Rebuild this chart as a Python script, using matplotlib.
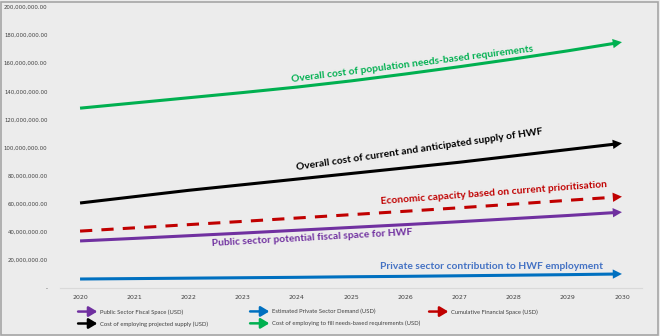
import matplotlib
matplotlib.use("Agg")
import matplotlib.pyplot as plt
from matplotlib.patches import FancyArrowPatch, Rectangle
from matplotlib.legend_handler import HandlerBase
from matplotlib.ticker import FuncFormatter

years = [2020, 2021, 2022, 2023, 2024, 2025, 2026, 2027, 2028, 2029, 2030]
public_fiscal = [33.5, 35.3, 37.2, 39.1, 41.1, 43.1, 45.1, 47.2, 49.4, 51.6, 54.0]
private_demand = [6.4, 6.7, 7.0, 7.3, 7.6, 8.0, 8.3, 8.7, 9.1, 9.5, 10.0]
cumulative_fin = [40.5, 42.8, 45.1, 47.4, 49.8, 52.2, 54.6, 57.1, 59.7, 62.4, 65.0]
cost_supply = [60.5, 65.0, 69.5, 73.5, 77.5, 81.5, 85.5, 89.5, 94.0, 98.5, 103.0]
cost_needs = [128.0, 131.7, 135.4, 139.1, 143.0, 147.4, 152.3, 157.5, 163.0, 168.8, 175.0]

series_labels = ["Public Sector Fiscal Space (USD)",
                 "Estimated Private Sector Demand (USD)",
                 "Cumulative Financial Space (USD)",
                 "Cost of employing projected supply (USD)",
                 "Cost of employing to fill needs-based requirements (USD)"]
annotations = ["Public sector potential fiscal space for HWF",
               "Private sector contribution to HWF employment",
               "Economic capacity based on current prioritisation",
               "Overall cost of current and anticipated supply of HWF",
               "Overall cost of population needs-based requirements"]

colors = ["#7030a0", "#0070c0", "#c00000", "#000000", "#00b050"]
text_colors = ["#7030a0", "#4472c4", "#c00000", "#000000", "#00b050"]
styles = ["-", "-", (0, (4, 3)), "-", "-"]
# annotation placement (x in years, y in millions, rotation deg)
ann_pos = [(2024.28, 35.4, 3.2), (2027.6, 15.6, 0), (2027.64, 67.6, 4.3),
           (2026.27, 98.2, 8.3), (2026.13, 159.4, 7.2)]

bg = "#ececec"
fig = plt.figure(figsize=(6.6, 3.36), dpi=100, facecolor=bg)
ax = fig.add_axes([60/660, 48/336, 582/660, 281/336], facecolor=bg)

data = [public_fiscal, private_demand, cumulative_fin, cost_supply, cost_needs]
S = 1e6
for vals, c, ls in zip(data, colors, styles):
    yv = [v * S for v in vals]
    ax.plot(years[:-1] + [years[-1] - 0.12], yv[:-1] + [yv[-1] - (yv[-1]-yv[-2])*0.12],
            color=c, lw=2.2, linestyle=ls, solid_capstyle="butt", dash_capstyle="butt")
    ax.annotate("", xy=(years[-1], yv[-1]), xytext=(years[-2], yv[-2]),
                arrowprops=dict(arrowstyle="-|>,head_length=0.55,head_width=0.28",
                                color=c, lw=0, shrinkA=0, shrinkB=0, mutation_scale=12))

for txt, tc, (xp, yp, rot) in zip(annotations, text_colors, ann_pos):
    ax.text(xp, yp * S, txt, color=tc, fontsize=7.4, fontweight="bold",
            family=["Lato", "DejaVu Sans"], rotation=rot, ha="center", va="center",
            rotation_mode="anchor")

ax.set_xlim(2020 - 0.37, 2030 + 0.37)
ax.set_ylim(0, 200e6)
ax.set_xticks(years)
ax.set_yticks([i * 20e6 for i in range(11)])
ax.yaxis.set_major_formatter(FuncFormatter(lambda v, p: "-" if v == 0 else f"{v:,.2f}"))
ax.tick_params(axis="x", length=0, labelsize=4.5, labelcolor="#404040", pad=5)
ax.tick_params(axis="y", length=0, labelsize=3.9, labelcolor="#404040", pad=9)
for s in ["top", "right", "left"]:
    ax.spines[s].set_visible(False)
ax.spines["bottom"].set_color("#d9d9d9")
ax.spines["bottom"].set_linewidth(0.8)


class ArrowHandler(HandlerBase):
    def __init__(self, color):
        super().__init__()
        self.color = color

    def create_artists(self, legend, orig_handle, xdescent, ydescent, width, height, fontsize, trans):
        y = height / 2 - ydescent
        a = FancyArrowPatch((-xdescent, y), (-xdescent + width, y),
                            arrowstyle="-|>,head_length=0.5,head_width=0.3",
                            mutation_scale=10, color=self.color, lw=1.8,
                            shrinkA=0, shrinkB=0, transform=trans)
        return [a]


handles = [Rectangle((0, 0), 1, 1) for _ in series_labels]
hmap = {h: ArrowHandler(c) for h, c in zip(handles, colors)}
columns = [([0, 3], 74), ([1, 4], 246), ([2], 425)]
for idx, xstart in columns:
    leg = fig.legend([handles[i] for i in idx], [series_labels[i] for i in idx],
                     handler_map=hmap, ncol=1, loc="upper left",
                     bbox_to_anchor=(xstart/660, 31/336), frameon=False,
                     prop={"size": 4.2, "family": ["Lato", "DejaVu Sans"]},
                     handlelength=3.3, handletextpad=0.4, borderpad=0.2,
                     labelspacing=1.1)
    for t in leg.get_texts():
        t.set_color("#404040")

fig.patches.append(Rectangle((1/660, 1/336), 657/660, 333/336, transform=fig.transFigure,
                             fill=False, edgecolor="#a6a6a6", lw=1.2))

fig.savefig("out.png", dpi=100, facecolor=bg)
